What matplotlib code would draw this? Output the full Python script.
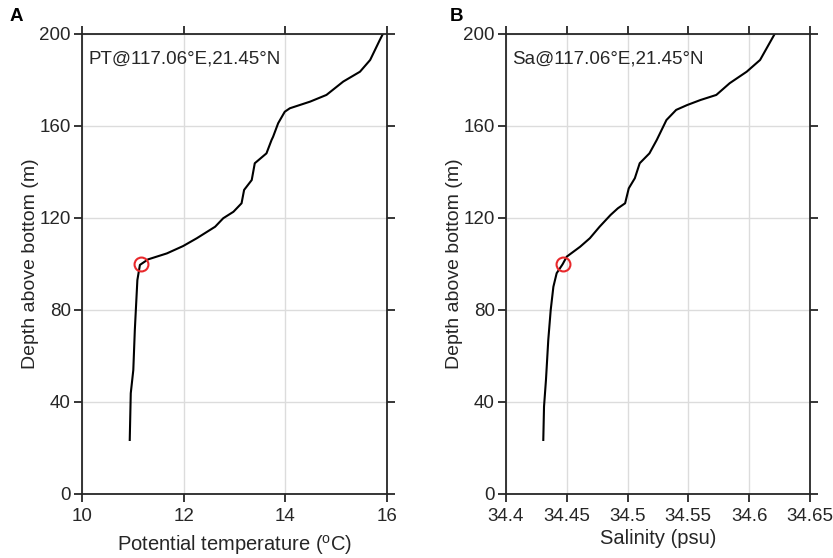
import matplotlib.pyplot as plt

plt.rcParams["font.family"] = ["Liberation Sans", "DejaVu Sans"]

# potential temperature profile (deg C) vs depth above bottom (m)
pt_temp = [15.92, 15.86, 15.67, 15.47, 15.14, 14.81, 14.49, 14.09, 13.99, 13.86,
           13.76, 13.73, 13.63, 13.40, 13.34, 13.19, 13.14, 12.98, 12.78, 12.62,
           12.26, 11.99, 11.67, 11.30, 11.14, 11.09, 11.06, 11.04, 11.01, 10.96,
           10.94]
pt_depth = [200, 197.4, 188.7, 183.6, 179.3, 173.5, 170.6, 167.7, 166.2, 161.2,
            155.3, 153.9, 148.1, 143.8, 136.5, 132.2, 126.4, 122.7, 119.9, 116.2,
            111.2, 107.8, 104.6, 102.0, 99.6, 93.0, 80.0, 71.3, 53.9, 43.8,
            23.5]

# salinity profile (psu)
sa_sal = [34.621, 34.609, 34.598, 34.584, 34.573, 34.560, 34.549, 34.540, 34.532,
          34.524, 34.518, 34.510, 34.506, 34.501, 34.498, 34.492, 34.486, 34.477,
          34.469, 34.461, 34.450, 34.4466, 34.4417, 34.439, 34.4368, 34.4348,
          34.4329, 34.4313, 34.4307]
sa_depth = [200, 188.7, 183.6, 178.6, 173.5, 171.3, 169.1, 167.0, 162.6,
            153.9, 148.1, 143.8, 137.3, 132.9, 126.4, 124.2, 121.3, 116.2,
            111.2, 107.5, 103.2, 99.9, 96.0, 90.1, 80.0, 67.0,
            49.6, 38.0, 23.5]

# marked point (mixed layer top)
mark_pt = (11.17, 100)
mark_sa = (34.4466, 100)

pt_ticks = [10, 12, 14, 16]
sa_ticks = [34.4, 34.45, 34.5, 34.55, 34.6, 34.65]
sa_ticklabels = ["34.4", "34.45", "34.5", "34.55", "34.6", "34.65"]
depth_ticks = [0, 40, 80, 120, 160, 200]

dark = "#262626"

fig = plt.figure(figsize=(8.33, 5.58), dpi=100)
ax1 = fig.add_axes([0.0984, 0.1147, 0.3661, 0.8244])
ax2 = fig.add_axes([0.6074, 0.1147, 0.3649, 0.8244])


def style_axis(ax):
    ax.set_ylim(0, 200)
    ax.set_yticks(depth_ticks)
    ax.grid(True, color="#dcdcdc", linewidth=1)
    ax.set_axisbelow(True)
    for s in ax.spines.values():
        s.set_color(dark)
        s.set_linewidth(1.3)
    ax.tick_params(direction="out", length=5.5, width=1.3, color=dark,
                   labelsize=13.5, labelcolor=dark, pad=2.5,
                   top=True, right=True, labeltop=False, labelright=False)
    ax.tick_params(axis="x", pad=4.5)
    ax.set_ylabel("Depth above bottom (m)", fontsize=14, color=dark, labelpad=0)


ax1.plot(pt_temp, pt_depth, color="black", linewidth=1.5)
ax1.plot(*mark_pt, "o", markersize=10, markerfacecolor="none",
         markeredgecolor="#e8282b", markeredgewidth=1.5)
ax1.set_xlim(10, 16)
ax1.set_xticks(pt_ticks)
style_axis(ax1)
ax1.set_xlabel("Potential temperature ($\\mathregular{^{o}}$C)", fontsize=14.5,
               color=dark, labelpad=6)
ax1.text(0.02, 0.965, "PT@117.06°E,21.45°N", transform=ax1.transAxes,
         fontsize=13.5, color=dark, va="top", ha="left")

ax2.plot(sa_sal, sa_depth, color="black", linewidth=1.5)
ax2.plot(*mark_sa, "o", markersize=10, markerfacecolor="none",
         markeredgecolor="#e8282b", markeredgewidth=1.5)
ax2.set_xlim(34.4, 34.65)
ax2.set_xticks(sa_ticks)
ax2.set_xticklabels(sa_ticklabels)
style_axis(ax2)
ax2.set_xlabel("Salinity (psu)", fontsize=14.5, color=dark, labelpad=3)
ax2.text(0.02, 0.965, "Sa@117.06°E,21.45°N", transform=ax2.transAxes,
         fontsize=13.5, color=dark, va="top", ha="left")

fig.text(0.012, 0.97, "A", fontsize=13.5, fontweight="bold", va="center")
fig.text(0.54, 0.97, "B", fontsize=13.5, fontweight="bold", va="center")

fig.savefig("out.png", dpi=100)
